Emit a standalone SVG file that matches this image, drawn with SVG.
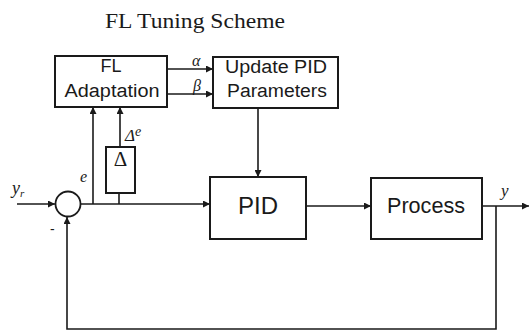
<svg xmlns="http://www.w3.org/2000/svg" width="530" height="331" viewBox="0 0 530 331">
<defs>
<style>
.box{fill:#fff;stroke:#1a1a1a;stroke-width:2}
.ln{fill:none;stroke:#1a1a1a;stroke-width:1.6}
.sans{font-family:"Liberation Sans",Arial,sans-serif;fill:#1a1a1a}
.serif{font-family:"Liberation Serif","Times New Roman",serif;fill:#1a1a1a}
.it{font-family:"Liberation Serif","Times New Roman",serif;font-style:italic;fill:#1a1a1a}
</style>
<marker id="ah" viewBox="0 0 8 8" refX="8" refY="4" markerWidth="7" markerHeight="7" markerUnits="userSpaceOnUse" orient="auto">
<path d="M0,0 L8,4 L0,8 Z" fill="#1a1a1a"/>
</marker>
</defs>
<rect width="530" height="331" fill="#fff"/>
<text x="105" y="28" class="serif" font-size="21" textLength="180" lengthAdjust="spacingAndGlyphs">FL Tuning Scheme</text>

<g id="connectors">
<line class="ln" x1="167" y1="69" x2="213" y2="69" marker-end="url(#ah)"/>
<line class="ln" x1="167" y1="94" x2="213" y2="94" marker-end="url(#ah)"/>
<line class="ln" x1="258" y1="108" x2="258" y2="177" marker-end="url(#ah)"/>
<line class="ln" x1="17" y1="204" x2="55" y2="204" marker-end="url(#ah)"/>
<line class="ln" x1="81" y1="204" x2="210" y2="204" marker-end="url(#ah)"/>
<line class="ln" x1="93" y1="204" x2="93" y2="107" marker-end="url(#ah)"/>
<line class="ln" x1="119" y1="204" x2="119" y2="193"/>
<line class="ln" x1="120" y1="146" x2="120" y2="107" marker-end="url(#ah)"/>
<line class="ln" x1="306" y1="206" x2="371" y2="206" marker-end="url(#ah)"/>
<line class="ln" x1="482" y1="206" x2="529" y2="206" marker-end="url(#ah)"/>
<polyline class="ln" points="496,206 496,329 67,329 67,217" marker-end="url(#ah)"/>
</g>

<g id="fl-adaptation">
<rect class="box" x="55" y="56" width="112" height="51"/>
<text class="sans" font-size="18" x="111" y="72" text-anchor="middle">FL</text>
<text class="sans" font-size="18" x="112" y="97" text-anchor="middle" textLength="95" lengthAdjust="spacingAndGlyphs">Adaptation</text>
</g>

<g id="update-pid">
<rect class="box" x="213" y="57" width="125" height="51"/>
<text class="sans" font-size="18" x="276" y="73" text-anchor="middle" textLength="102" lengthAdjust="spacingAndGlyphs">Update PID</text>
<text class="sans" font-size="18" x="277" y="97" text-anchor="middle" textLength="100" lengthAdjust="spacingAndGlyphs">Parameters</text>
</g>

<g id="delta">
<rect class="box" x="106" y="147" width="29" height="46" stroke-width="2.5"/>
<text class="serif" font-size="21" x="120.5" y="166" text-anchor="middle">Δ</text>
</g>

<g id="sum">
<circle cx="68" cy="204" r="12.5" fill="#fff" stroke="#1a1a1a" stroke-width="1.8"/>
</g>

<g id="pid">
<rect class="box" x="210" y="177" width="96" height="62"/>
<text class="sans" font-size="24" x="258" y="214" text-anchor="middle">PID</text>
</g>

<g id="process">
<rect class="box" x="371" y="178" width="111" height="61"/>
<text class="sans" font-size="22" x="426" y="213" text-anchor="middle" textLength="78" lengthAdjust="spacingAndGlyphs">Process</text>
</g>

<g id="labels">
<text class="it" font-size="16" x="192" y="66">α</text>
<text class="it" font-size="16" x="193" y="91">β</text>
<text class="it" font-size="17" x="125" y="141">Δ<tspan font-size="14" dy="-5">e</tspan></text>
<text class="it" font-size="16" x="80" y="182">e</text>
<text class="it" font-size="18" x="12" y="194">y<tspan font-size="11" dy="3">r</tspan></text>
<text class="sans" font-size="14" x="50" y="234">-</text>
<text class="it" font-size="17" x="501" y="196">y</text>
</g>
</svg>
